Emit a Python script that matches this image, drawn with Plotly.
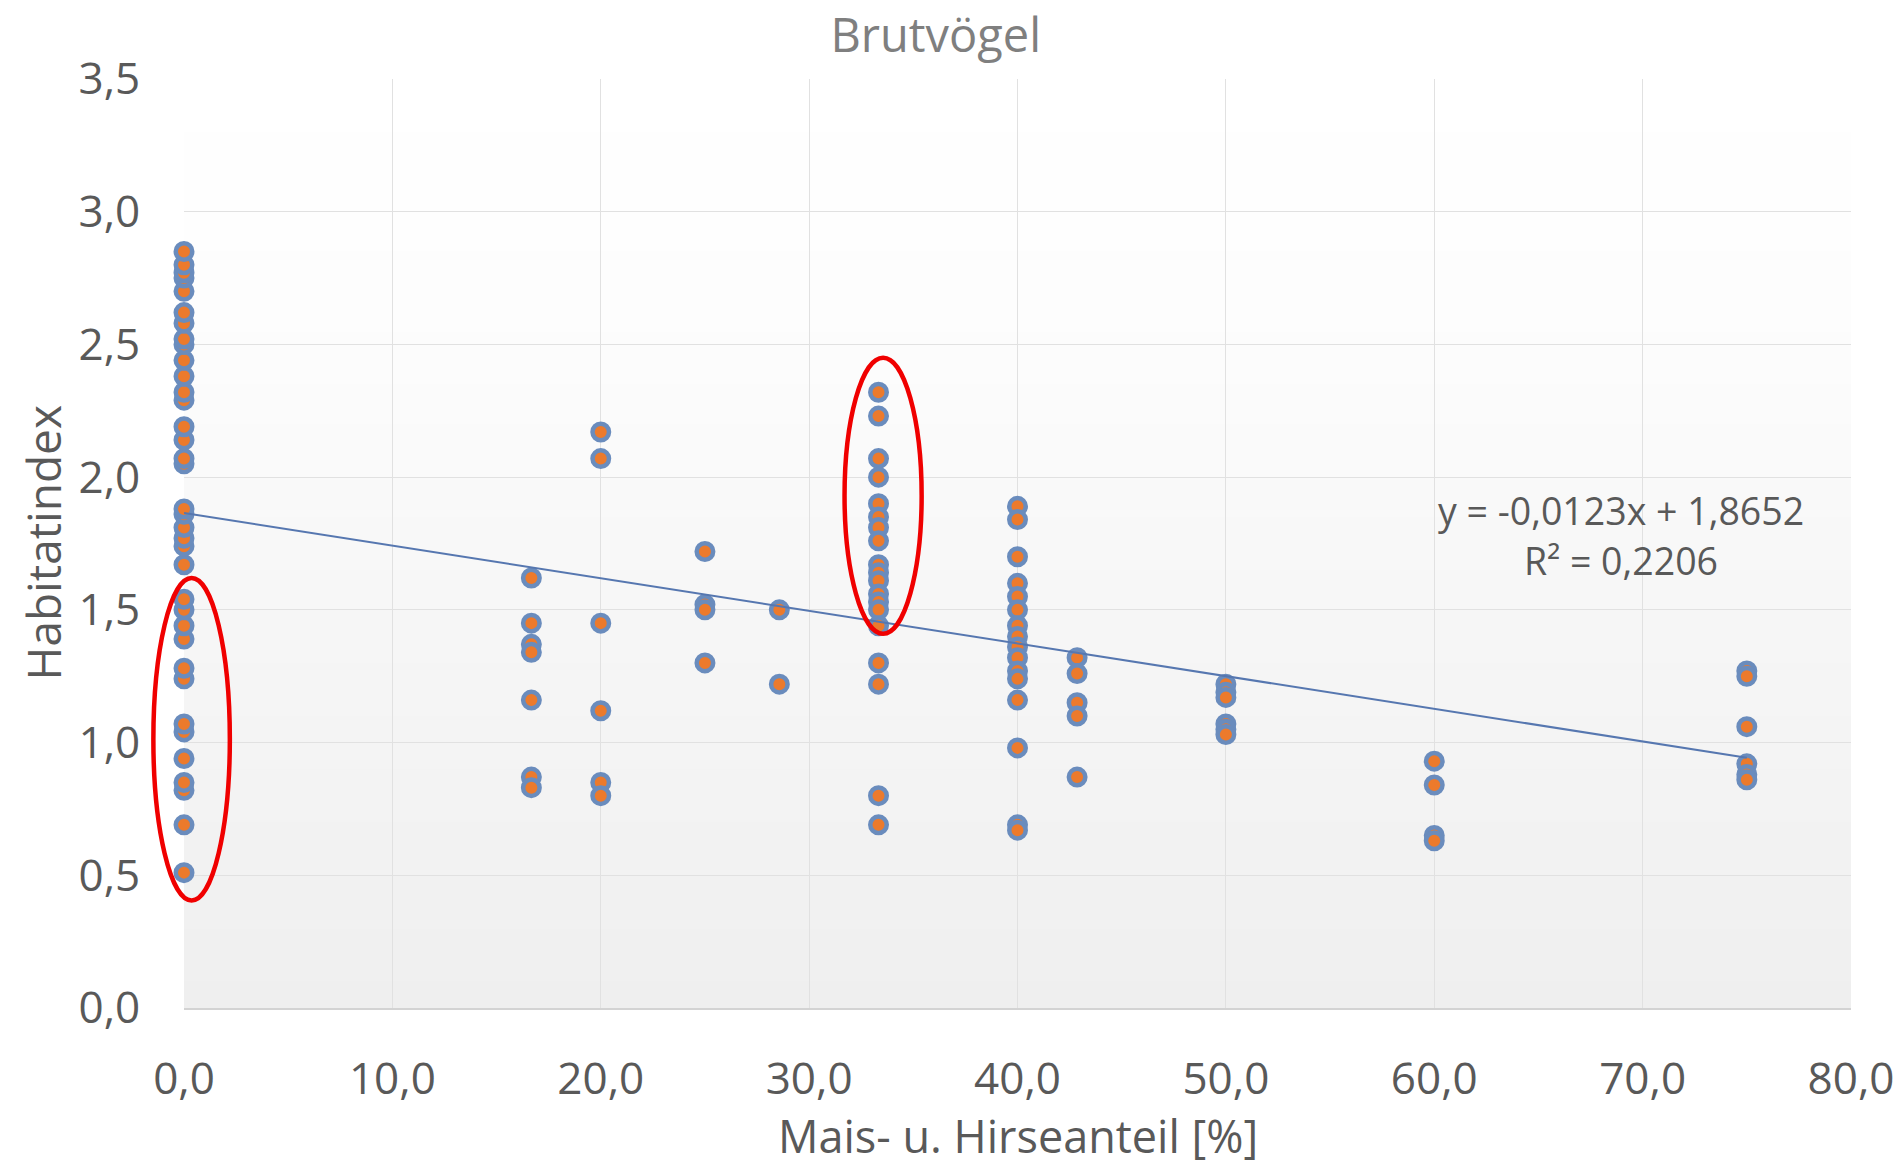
import plotly.graph_objects as go

# ---- data ----
x_groups = [0.0, 16.67, 20.0, 25.0, 28.57, 33.33, 40.0, 42.86, 50.0, 60.0, 75.0]
y_at_0 = [0.51, 0.69, 0.82, 0.85, 0.94, 1.04, 1.07, 1.24, 1.28, 1.39, 1.44, 1.50, 1.54,
          1.67, 1.74, 1.77, 1.81, 1.86, 1.88, 2.05, 2.07, 2.14, 2.19, 2.29, 2.32, 2.38,
          2.44, 2.50, 2.52, 2.58, 2.62, 2.70, 2.75, 2.77, 2.80, 2.85]
y_at_16_7 = [1.62, 1.45, 1.37, 1.34, 1.16, 0.87, 0.83]
y_at_20 = [2.17, 2.07, 1.45, 1.12, 0.85, 0.80]
y_at_25 = [1.72, 1.52, 1.50, 1.30]
y_at_28_6 = [1.50, 1.22]
y_at_33_3 = [2.32, 2.23, 2.07, 2.00, 1.90, 1.85, 1.81, 1.76, 1.67, 1.64, 1.61, 1.56,
             1.53, 1.50, 1.44, 1.30, 1.22, 0.80, 0.69]
y_at_40 = [1.89, 1.84, 1.70, 1.60, 1.55, 1.50, 1.44, 1.40, 1.36, 1.32, 1.27, 1.24,
           1.16, 0.98, 0.69, 0.67]
y_at_42_9 = [1.32, 1.26, 1.15, 1.10, 0.87]
y_at_50 = [1.22, 1.19, 1.17, 1.07, 1.05, 1.03]
y_at_60 = [0.93, 0.84, 0.65, 0.63]
y_at_75 = [1.27, 1.25, 1.06, 0.92, 0.88, 0.86]
y_groups = [y_at_0, y_at_16_7, y_at_20, y_at_25, y_at_28_6, y_at_33_3, y_at_40,
            y_at_42_9, y_at_50, y_at_60, y_at_75]

# trendline (as printed on the chart)
slope = -0.0123
intercept = 1.8652
equation_text = "y = -0,0123x + 1,8652"
r_squared_text = "R² = 0,2206"
trend_x = [0.0, 75.0]

# highlighted groups (ellipses), in data units: x0, x1, y0, y1
ellipses = [(-1.47, 2.2, 0.405, 1.62), (31.7, 35.4, 1.41, 2.45)]

x_range = [0, 80]
y_range = [0, 3.5]

# ---- build ----
xs, ys = [], []
for gx, gy in zip(x_groups, y_groups):
    xs += [gx] * len(gy)
    ys += gy

FONT = "Open Sans, Noto Sans, sans-serif"
GREY = "#595959"

fig = go.Figure()

fig.add_trace(go.Scatter(
    x=xs, y=ys, mode="markers", cliponaxis=False, showlegend=False,
    marker=dict(size=16.5, color="#EC7A2C", line=dict(width=4.5, color="#6A8CBD")),
))

fig.add_trace(go.Scatter(
    x=trend_x, y=[slope * v + intercept for v in trend_x], mode="lines",
    line=dict(color="#5677B0", width=2), showlegend=False, hoverinfo="skip",
))


def hex2rgb(h):
    return [int(h[i:i + 2], 16) for i in (1, 3, 5)]


# plot-area background gradient (bands below the grid)
grad_stops = [(0.0, "#EFEFEF"), (0.45, "#F7F7F7"), (0.75, "#FDFDFD"), (1.0, "#FFFFFF")]


def grad_color(t):
    for (t0, c0), (t1, c1) in zip(grad_stops[:-1], grad_stops[1:]):
        if t0 <= t <= t1:
            a, b = hex2rgb(c0), hex2rgb(c1)
            f = (t - t0) / (t1 - t0)
            return "rgb(%d,%d,%d)" % tuple(round(a[k] + (b[k] - a[k]) * f) for k in range(3))
    return grad_stops[-1][1]


shapes = []
N = 70
for i in range(N):
    shapes.append(dict(type="rect", xref="paper", yref="paper", x0=0, x1=1,
                       y0=i / N, y1=(i + 1) / N + 0.002, line=dict(width=0),
                       fillcolor=grad_color((i + 0.5) / N), layer="below"))

for (ex0, ex1, ey0, ey1) in ellipses:
    shapes.append(dict(
        type="circle", xref="paper", yref="paper",
        x0=(ex0 - x_range[0]) / (x_range[1] - x_range[0]),
        x1=(ex1 - x_range[0]) / (x_range[1] - x_range[0]),
        y0=(ey0 - y_range[0]) / (y_range[1] - y_range[0]),
        y1=(ey1 - y_range[0]) / (y_range[1] - y_range[0]),
        line=dict(color="#F00000", width=4.5), layer="above",
    ))

fig.update_layout(
    width=1902, height=1166,
    margin=dict(l=184, r=51, t=79, b=158, autoexpand=False),
    paper_bgcolor="white", plot_bgcolor="white",
    separators=",.",
    font=dict(family=FONT, color=GREY, size=40),
    title=dict(text="Brutvögel", x=0.492, xref="container", xanchor="center",
               y=1 - 36 / 1166, yref="container", yanchor="middle",
               font=dict(family=FONT, size=47, color="#7F7F7F")),
    shapes=shapes,
    annotations=[
        dict(x=68.97, y=1.876, xref="x", yref="y", text=equation_text, showarrow=False,
             font=dict(family=FONT, size=37.5, color=GREY), xanchor="center", yanchor="middle"),
        dict(x=68.97, y=1.685, xref="x", yref="y", text=r_squared_text, showarrow=False,
             font=dict(family=FONT, size=37.5, color=GREY), xanchor="center", yanchor="middle"),
        dict(x=0.5, y=0, xref="paper", yref="paper", yshift=-127,
             text="Mais- u. Hirseanteil [%]", showarrow=False,
             font=dict(family=FONT, size=45, color=GREY), xanchor="center", yanchor="middle"),
        dict(x=0, y=0.5, xref="paper", yref="paper", xshift=-142, textangle=-90,
             text="Habitatindex", showarrow=False,
             font=dict(family=FONT, size=46, color=GREY), xanchor="center", yanchor="middle"),
    ],
)

fig.update_xaxes(
    range=x_range, dtick=10, tick0=0, tickformat=".1f", automargin=False,
    showgrid=True, gridcolor="#E1E1E1", gridwidth=1.3, zeroline=False,
    showline=True, linecolor="#D3D3D3", linewidth=2,
    ticks="outside", ticklen=31, tickcolor="rgba(0,0,0,0)",
    tickfont=dict(family=FONT, size=44, color=GREY),
)
fig.update_yaxes(
    range=y_range, dtick=0.5, tick0=0, tickformat=".1f", automargin=False,
    showgrid=True, gridcolor="#E1E1E1", gridwidth=1.3, zeroline=False,
    showline=False,
    ticks="outside", ticklen=34, tickcolor="rgba(0,0,0,0)",
    tickfont=dict(family=FONT, size=44, color=GREY),
)

fig.write_html("out.html", config={"displayModeBar": False},
               post_script="document.body.style.margin='0px';")
